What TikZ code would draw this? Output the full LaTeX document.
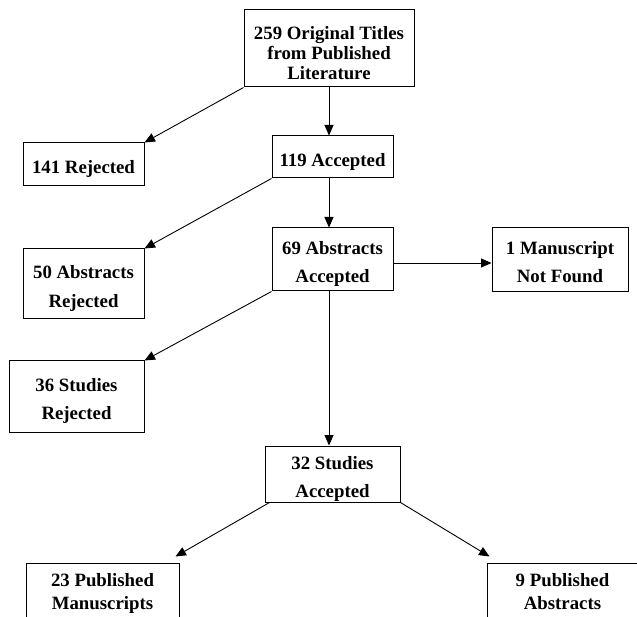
\documentclass[tikz,border=0pt]{standalone}
\usepackage{fontspec}
\setmainfont{Liberation Serif}
\usetikzlibrary{arrows.meta,calc}
\newcommand{\topstrut}{\rule{0pt}{22.5pt}}
\newcommand{\lowtopstrut}{\rule{0pt}{17pt}}
\newcommand{\botstrut}{\rule[-4.1pt]{0pt}{4.1pt}}
\tikzset{
  box/.style={draw, line width=1pt, inner sep=0pt, align=center,
    font=\fontsize{18.8}{28.5}\selectfont\bfseries},
  lowbox/.style={box, font=\fontsize{18.8}{23}\selectfont\bfseries},
  arr/.style={-{Triangle[length=10.5pt,width=9pt]}, line width=0.9pt}
}
\begin{document}
\begin{tikzpicture}[x=1pt,y=-1pt]
\useasboundingbox (0,0) rectangle (637,617);
\clip (0,0) rectangle (637,617);
\node[box, minimum width=170pt, minimum height=77pt,
  font=\fontsize{18.8}{20}\selectfont\bfseries] (n259) at (329,48.5)
  {\topstrut259 Original Titles\\from Published\\Literature};
\node[box, minimum width=121pt, minimum height=43pt] (n141) at (83.5,164.5) {\topstrut141 Rejected};
\node[box, minimum width=121pt, minimum height=42pt] (n119) at (332.5,157) {\topstrut119 Accepted};
\node[box, minimum width=121pt, minimum height=63pt] (n69) at (332.5,259.5) {\topstrut69 Abstracts\\Accepted};
\node[box, minimum width=136pt, minimum height=64pt] (n1) at (560,259.5) {\topstrut1 Manuscript\\Not Found\botstrut};
\node[box, minimum width=121pt, minimum height=70pt] (n50) at (83.5,284) {\topstrut50 Abstracts\\Rejected};
\node[box, minimum width=135pt, minimum height=71pt] (n36) at (76.5,396.5) {\topstrut36 Studies\\Rejected};
\node[box, minimum width=135pt, minimum height=56pt] (n32) at (332.5,474) {\topstrut32 Studies\\Accepted};
\node[lowbox, minimum width=153pt, minimum height=57pt] (n23) at (102.5,591.5) {\lowtopstrut23 Published\\Manuscripts};
\node[lowbox, minimum width=151pt, minimum height=57pt] (n9) at (562.5,591.5) {\lowtopstrut9 Published\\Abstracts\botstrut};
\draw[arr] (n259.south) -- (n259.south |- n119.north);
\draw[arr] (n259.south west) -- (n141.north east);
\draw[arr] (n119.south west) -- (n50.north east);
\draw[arr] (n259.south |- n119.south) -- (n259.south |- n69.north);
\draw[arr] ([yshift=-3.5pt]n69.east) -- ([yshift=-3.5pt]n1.west);
\draw[arr] (n69.south west) -- (n36.north east);
\draw[arr] (n259.south |- n69.south) -- (n259.south |- n32.north);
\draw[arr] ([xshift=5pt]n32.south west) -- ([xshift=-4pt,yshift=6pt]n23.north east);
\draw[arr] (n32.south east) -- ([xshift=3pt,yshift=6pt]n9.north west);
\end{tikzpicture}
\end{document}
